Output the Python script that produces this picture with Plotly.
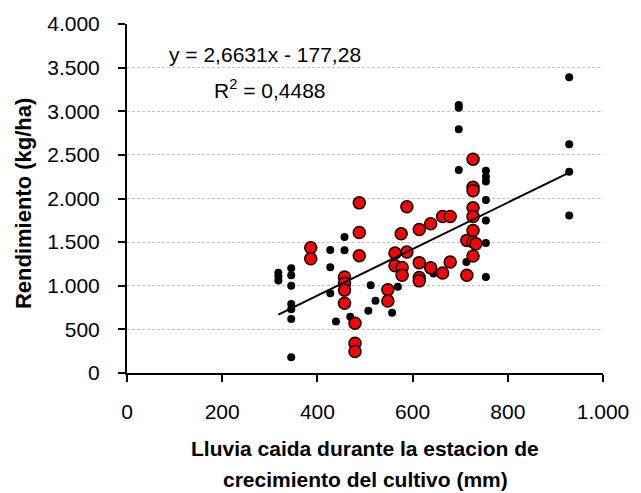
import plotly.graph_objects as go

# Rainfall during the growing season (mm) vs yield (kg/ha)
black_x = [318, 318, 318,
           345, 345, 345, 345, 345, 345, 345,
           427, 427, 427, 439, 457, 457, 469, 507, 512, 522, 557, 569, 644,
           697, 697, 697, 697, 713,
           754, 754, 754, 754, 754, 754, 754,
           929, 929, 929, 929]
black_y = [1060, 1110, 1150,
           1200, 1120, 1000, 790, 730, 620, 180,
           1410, 1212, 915, 589, 1558, 1406, 645, 714, 1007, 828, 691, 988, 1140,
           3071, 3040, 2794, 2326, 1273,
           2318, 2250, 2196, 1984, 1748, 1489, 1100,
           3390, 2623, 2307, 1805]

red_x = [386, 386,
         457, 457, 457, 457,
         479, 479, 479,
         488, 488, 488,
         548, 548,
         563, 563,
         578, 578, 576,
         588, 588,
         614, 614, 614, 614,
         638, 638,
         663, 663,
         679, 679,
         714, 714,
         727, 727, 727, 727, 727, 727, 727, 727, 733]
red_y = [1435, 1310,
         1100, 1030, 950, 800,
         570, 342, 246,
         1950, 1610, 1345,
         955, 825,
         1375, 1230,
         1210, 1120, 1595,
         1905, 1387,
         1645, 1265, 1095, 1056,
         1710, 1205,
         1794, 1147,
         1794, 1273,
         1520, 1121,
         2451, 2128, 2090, 1893, 1794, 1634, 1501, 1341, 1482]

# Linear trend reported on the chart
slope = 2.6631
intercept = -177.28
r_squared = "0,4488"

x_ticks = [0, 200, 400, 600, 800, 1000]
x_tick_text = ["0", "200", "400", "600", "800", "1.000"]
y_ticks = [0, 500, 1000, 1500, 2000, 2500, 3000, 3500, 4000]
y_tick_text = ["0", "500", "1.000", "1.500", "2.000", "2.500", "3.000", "3.500", "4.000"]

FONT = "Liberation Sans, Arial, sans-serif"

all_x = black_x + red_x
trend_x = [min(all_x), max(all_x)]
trend_y = [slope * v + intercept for v in trend_x]

fig = go.Figure()
fig.add_trace(go.Scatter(
    x=black_x, y=black_y, mode="markers",
    marker=dict(color="black", size=8, line=dict(width=0)),
    hoverinfo="x+y", showlegend=False))
fig.add_trace(go.Scatter(
    x=red_x, y=red_y, mode="markers",
    marker=dict(color="#ff0000", size=12, line=dict(color="black", width=1.5)),
    hoverinfo="x+y", showlegend=False))
fig.add_trace(go.Scatter(
    x=trend_x, y=trend_y, mode="lines",
    line=dict(color="black", width=2),
    hoverinfo="skip", showlegend=False))

fig.update_layout(
    width=641, height=493,
    margin=dict(l=127, r=33, t=22, b=120),
    paper_bgcolor="white", plot_bgcolor="white",
    font=dict(family=FONT, size=21, color="black"),
    xaxis=dict(
        range=[0, 1000], tickvals=x_ticks, ticktext=x_tick_text,
        showline=True, linecolor="black", linewidth=2,
        ticks="outside", ticklen=7, tickwidth=2, tickcolor="black",
        showgrid=False, zeroline=False, ticklabelstandoff=12,
        tickfont=dict(size=21)),
    yaxis=dict(
        range=[0, 4000], tickvals=y_ticks, ticktext=y_tick_text,
        showline=True, linecolor="black", linewidth=2,
        ticks="outside", ticklen=7, tickwidth=2, tickcolor="black",
        showgrid=True, gridcolor="#c4c4c4", gridwidth=1, griddash="3px,2px",
        zeroline=False, ticklabelstandoff=14,
        tickfont=dict(size=21)),
    annotations=[
        dict(text="y = 2,6631x - 177,28", x=84, y=3655, xref="x", yref="y",
             xanchor="left", yanchor="middle", showarrow=False,
             font=dict(size=21)),
        dict(text="R<sup>2</sup> = " + r_squared, x=179, y=3250, xref="x", yref="y",
             xanchor="left", yanchor="middle", showarrow=False,
             font=dict(size=21)),
        dict(text="<b>Lluvia caida durante la estacion de</b>",
             x=0.5, y=-0.215, xref="paper", yref="paper",
             xanchor="center", yanchor="middle", showarrow=False,
             font=dict(size=21)),
        dict(text="<b>crecimiento del cultivo (mm)</b>",
             x=0.5, y=-0.306, xref="paper", yref="paper",
             xanchor="center", yanchor="middle", showarrow=False,
             font=dict(size=21)),
        dict(text="<b>Rendimiento (kg/ha)</b>", textangle=-90,
             x=-0.217, y=0.486, xref="paper", yref="paper",
             xanchor="center", yanchor="middle", showarrow=False,
             font=dict(size=22)),
    ],
)

fig.write_html("out.html")
